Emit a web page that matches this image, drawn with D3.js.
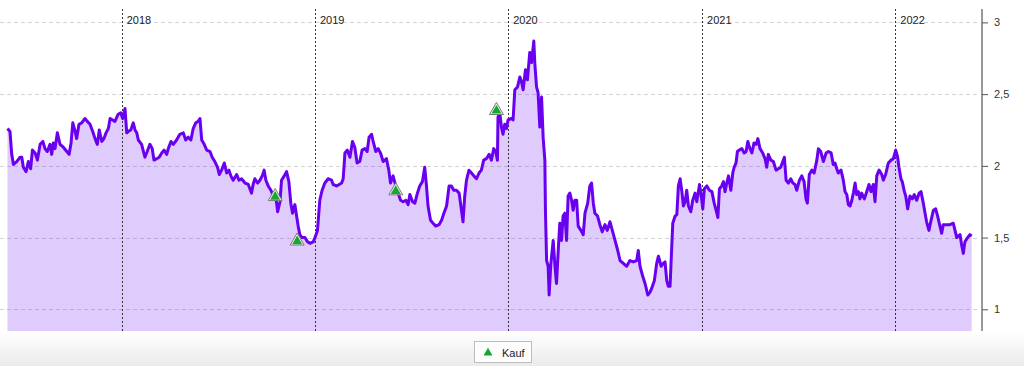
<!DOCTYPE html>
<html><head><meta charset="utf-8">
<script src="https://cdn.jsdelivr.net/npm/d3@7/dist/d3.min.js"></script>
<style>html,body{margin:0;padding:0;background:#fff;}svg{display:block;font-family:"Liberation Sans",Arial,Helvetica,sans-serif;}</style>
</head><body>
<svg id="chart" width="1024" height="366"></svg>
<script>
// Kursverlauf: [Datum als Dezimaljahr, Kurs]
const kurs = [
[2017.409,2.26],[2017.422,2.24],[2017.431,2.08],[2017.440,2.01],[2017.457,2.03],[2017.474,2.06],[2017.483,2.06],[2017.491,1.99],[2017.505,1.96],[2017.517,2.03],
[2017.529,1.98],[2017.538,2.11],[2017.552,2.09],[2017.564,2.04],[2017.578,2.15],[2017.592,2.17],[2017.603,2.12],[2017.615,2.10],[2017.629,2.15],[2017.638,2.08],
[2017.646,2.16],[2017.655,2.12],[2017.667,2.23],[2017.681,2.15],[2017.698,2.13],[2017.716,2.10],[2017.728,2.08],[2017.738,2.16],[2017.747,2.30],[2017.759,2.24],
[2017.767,2.19],[2017.779,2.29],[2017.793,2.30],[2017.810,2.33],[2017.822,2.31],[2017.836,2.29],[2017.850,2.24],[2017.862,2.19],[2017.874,2.15],[2017.884,2.25],
[2017.897,2.17],[2017.908,2.19],[2017.919,2.23],[2017.931,2.26],[2017.940,2.33],[2017.953,2.32],[2017.965,2.31],[2017.982,2.36],[2017.995,2.37],[2018.005,2.33],
[2018.017,2.40],[2018.026,2.23],[2018.034,2.24],[2018.047,2.25],[2018.060,2.30],[2018.069,2.25],[2018.078,2.23],[2018.086,2.18],[2018.103,2.15],[2018.120,2.06],
[2018.132,2.10],[2018.146,2.15],[2018.158,2.12],[2018.167,2.04],[2018.181,2.05],[2018.194,2.06],[2018.207,2.09],[2018.219,2.11],[2018.233,2.08],[2018.241,2.12],
[2018.255,2.17],[2018.267,2.15],[2018.284,2.18],[2018.301,2.22],[2018.319,2.23],[2018.331,2.18],[2018.344,2.20],[2018.358,2.18],[2018.370,2.26],[2018.383,2.30],
[2018.396,2.31],[2018.405,2.33],[2018.414,2.18],[2018.427,2.15],[2018.440,2.11],[2018.457,2.10],[2018.468,2.06],[2018.482,2.03],[2018.496,1.99],[2018.505,1.94],
[2018.517,1.97],[2018.531,2.02],[2018.543,1.95],[2018.555,1.97],[2018.565,1.93],[2018.577,1.90],[2018.595,1.94],[2018.607,1.90],[2018.620,1.91],[2018.638,1.88],
[2018.655,1.87],[2018.663,1.84],[2018.672,1.81],[2018.680,1.87],[2018.689,1.91],[2018.703,1.88],[2018.715,1.90],[2018.727,1.93],[2018.737,1.97],[2018.746,1.90],
[2018.758,1.86],[2018.772,1.83],[2018.784,1.79],[2018.796,1.80],[2018.807,1.68],[2018.819,1.75],[2018.827,1.90],[2018.841,1.93],[2018.853,1.96],[2018.865,1.89],
[2018.875,1.74],[2018.884,1.67],[2018.896,1.73],[2018.905,1.65],[2018.913,1.58],[2018.922,1.52],[2018.934,1.50],[2018.948,1.50],[2018.962,1.47],[2018.974,1.46],
[2018.991,1.47],[2019.003,1.51],[2019.013,1.55],[2019.025,1.76],[2019.037,1.83],[2019.051,1.88],[2019.068,1.91],[2019.086,1.90],[2019.094,1.87],[2019.112,1.86],
[2019.138,1.88],[2019.146,1.91],[2019.155,2.09],[2019.167,2.11],[2019.181,2.06],[2019.194,2.17],[2019.206,2.13],[2019.218,2.02],[2019.232,2.03],[2019.244,2.11],
[2019.258,2.12],[2019.270,2.10],[2019.280,2.20],[2019.293,2.22],[2019.301,2.17],[2019.315,2.10],[2019.327,2.12],[2019.339,2.09],[2019.353,2.03],[2019.370,2.05],
[2019.382,1.97],[2019.391,1.88],[2019.404,1.93],[2019.418,1.86],[2019.430,1.81],[2019.443,1.76],[2019.456,1.75],[2019.470,1.76],[2019.482,1.73],[2019.491,1.80],
[2019.505,1.75],[2019.517,1.74],[2019.528,1.80],[2019.542,1.86],[2019.556,1.89],[2019.568,1.99],[2019.577,1.86],[2019.585,1.72],[2019.598,1.62],[2019.611,1.60],
[2019.625,1.58],[2019.642,1.59],[2019.655,1.62],[2019.667,1.67],[2019.681,1.72],[2019.694,1.86],[2019.706,1.86],[2019.718,1.83],[2019.732,1.83],[2019.746,1.81],
[2019.758,1.69],[2019.766,1.61],[2019.775,1.79],[2019.784,1.90],[2019.797,1.97],[2019.810,1.95],[2019.822,1.93],[2019.836,1.91],[2019.849,1.95],[2019.861,1.97],
[2019.873,2.04],[2019.887,2.05],[2019.901,2.08],[2019.913,2.04],[2019.925,2.12],[2019.935,2.10],[2019.944,2.04],[2019.947,2.34],[2019.956,2.37],[2019.965,2.27],
[2019.973,2.22],[2019.982,2.29],[2019.991,2.26],[2019.999,2.32],[2020.017,2.33],[2020.025,2.32],[2020.034,2.53],[2020.048,2.55],[2020.060,2.62],[2020.068,2.59],
[2020.077,2.53],[2020.089,2.67],[2020.099,2.60],[2020.111,2.79],[2020.120,2.72],[2020.132,2.87],[2020.137,2.72],[2020.146,2.55],[2020.154,2.51],[2020.163,2.27],
[2020.172,2.48],[2020.180,2.20],[2020.189,2.04],[2020.192,1.69],[2020.198,1.34],[2020.206,1.30],[2020.211,1.10],[2020.220,1.32],[2020.232,1.48],[2020.240,1.32],
[2020.249,1.18],[2020.258,1.41],[2020.266,1.60],[2020.275,1.48],[2020.283,1.65],[2020.292,1.67],[2020.301,1.48],[2020.309,1.79],[2020.318,1.81],[2020.327,1.76],
[2020.335,1.69],[2020.344,1.76],[2020.353,1.76],[2020.361,1.58],[2020.375,1.55],[2020.387,1.52],[2020.396,1.67],[2020.410,1.74],[2020.421,1.86],[2020.430,1.88],
[2020.439,1.74],[2020.447,1.67],[2020.461,1.65],[2020.473,1.59],[2020.485,1.54],[2020.499,1.59],[2020.511,1.55],[2020.525,1.61],[2020.537,1.55],[2020.551,1.48],
[2020.565,1.41],[2020.577,1.34],[2020.594,1.32],[2020.611,1.30],[2020.628,1.34],[2020.645,1.33],[2020.663,1.34],[2020.671,1.41],[2020.680,1.30],[2020.694,1.23],
[2020.706,1.18],[2020.720,1.10],[2020.732,1.12],[2020.744,1.16],[2020.754,1.20],[2020.766,1.32],[2020.775,1.37],[2020.789,1.30],[2020.800,1.32],[2020.809,1.33],
[2020.818,1.20],[2020.826,1.16],[2020.835,1.16],[2020.840,1.32],[2020.849,1.60],[2020.861,1.65],[2020.870,1.66],[2020.878,1.86],[2020.887,1.91],[2020.896,1.82],
[2020.904,1.72],[2020.913,1.75],[2020.921,1.83],[2020.930,1.72],[2020.942,1.68],[2020.952,1.76],[2020.964,1.81],[2020.973,1.75],[2020.987,1.87],[2020.995,1.80],
[2021.004,1.70],[2021.012,1.84],[2021.025,1.86],[2021.038,1.83],[2021.051,1.82],[2021.063,1.74],[2021.073,1.69],[2021.082,1.64],[2021.090,1.84],[2021.102,1.86],
[2021.111,1.89],[2021.119,1.82],[2021.128,1.88],[2021.137,1.93],[2021.149,1.83],[2021.159,1.95],[2021.166,1.99],[2021.176,2.02],[2021.183,2.10],[2021.193,2.11],
[2021.206,2.12],[2021.218,2.09],[2021.228,2.10],[2021.237,2.17],[2021.245,2.13],[2021.258,2.09],[2021.269,2.16],[2021.280,2.15],[2021.289,2.19],[2021.300,2.12],
[2021.314,2.09],[2021.326,2.05],[2021.335,1.99],[2021.343,2.08],[2021.356,2.04],[2021.369,2.03],[2021.383,1.97],[2021.395,1.98],[2021.407,1.99],[2021.418,2.03],
[2021.426,2.06],[2021.435,1.90],[2021.447,1.88],[2021.459,1.91],[2021.470,1.88],[2021.481,1.87],[2021.490,1.83],[2021.504,1.90],[2021.516,1.93],[2021.528,1.89],
[2021.538,1.77],[2021.545,1.74],[2021.555,1.94],[2021.568,1.97],[2021.580,1.95],[2021.594,2.04],[2021.602,2.12],[2021.614,2.10],[2021.628,2.03],[2021.642,2.09],
[2021.654,2.10],[2021.668,2.09],[2021.679,2.01],[2021.688,2.02],[2021.697,1.98],[2021.705,1.95],[2021.719,1.97],[2021.731,1.90],[2021.740,1.82],[2021.749,1.80],
[2021.757,1.73],[2021.766,1.72],[2021.775,1.76],[2021.783,1.81],[2021.792,1.88],[2021.800,1.80],[2021.809,1.82],[2021.817,1.77],[2021.826,1.81],[2021.840,1.77],
[2021.852,1.82],[2021.864,1.87],[2021.874,1.82],[2021.886,1.87],[2021.895,1.75],[2021.904,1.93],[2021.916,1.97],[2021.930,1.94],[2021.938,1.90],[2021.950,1.94],
[2021.964,2.02],[2021.978,2.04],[2021.990,2.05],[2022.002,2.11],[2022.012,2.06],[2022.019,1.99],[2022.029,1.91],[2022.036,1.89],[2022.047,1.82],[2022.054,1.79],
[2022.064,1.70],[2022.076,1.79],[2022.088,1.77],[2022.098,1.80],[2022.111,1.76],[2022.123,1.81],[2022.133,1.82],[2022.145,1.74],[2022.154,1.67],[2022.162,1.61],
[2022.174,1.55],[2022.185,1.62],[2022.197,1.69],[2022.209,1.70],[2022.219,1.65],[2022.231,1.58],[2022.240,1.53],[2022.248,1.59],[2022.266,1.59],[2022.283,1.59],
[2022.300,1.60],[2022.309,1.55],[2022.318,1.50],[2022.326,1.51],[2022.335,1.52],[2022.343,1.45],[2022.352,1.39],[2022.360,1.47],[2022.374,1.50],[2022.386,1.52],
[2022.395,1.51]
];
// Kaufsignale: [Datum als Dezimaljahr, Kurs]
const kaufSignale = [[2018.794,1.79],[2018.908,1.48],[2019.418,1.83],[2019.939,2.39]];
const yTicks = [1, 1.5, 2, 2.5, 3];
const yearTicks = [2018, 2019, 2020, 2021, 2022];
const legendLabel = "Kauf";

function dec2date(v){
  const yr = Math.floor(v);
  const s = new Date(yr,0,1), e = new Date(yr+1,0,1);
  return new Date(+s + (v-yr)*(e-s));
}

const W = 1024, H = 366;
const plotTop = 9, plotBottom = 331, gridRight = 980, axisX = 982;
const svg = d3.select("#chart");

const x = d3.scaleTime()
  .domain([new Date(2018,0,1), new Date(2022,0,1)])
  .range([121.7, 895.3]);
const y = d3.scaleLinear().domain([1,3]).range([309.3, 22.4]);

// footer gradient
const defs = svg.append("defs");
const grad = defs.append("linearGradient").attr("id","foot").attr("x1",0).attr("y1",0).attr("x2",0).attr("y2",1);
grad.append("stop").attr("offset","0%").attr("stop-color","#ffffff");
grad.append("stop").attr("offset","100%").attr("stop-color","#ebebeb");
svg.append("rect").attr("x",0).attr("y",plotBottom).attr("width",W).attr("height",H-plotBottom).attr("fill","url(#foot)");

// horizontal grid
svg.append("g").selectAll("line").data(yTicks).join("line")
  .attr("x1",0).attr("x2",gridRight)
  .attr("y1",d=>Math.round(y(d))+0.5).attr("y2",d=>Math.round(y(d))+0.5)
  .attr("stroke","#d4d4d4").attr("stroke-width",1).attr("stroke-dasharray","4,3");

const data = kurs.map(d=>({date:dec2date(d[0]), v:d[1]}));

// area
svg.append("path").datum(data)
  .attr("d", d3.area().x(d=>x(d.date)).y0(plotBottom).y1(d=>y(d.v)))
  .attr("fill","rgba(110,20,240,0.22)");

// year lines
const yg = svg.append("g");
yg.selectAll("line").data(yearTicks).join("line")
  .attr("x1",d=>Math.round(x(new Date(d,0,1)))+0.5).attr("x2",d=>Math.round(x(new Date(d,0,1)))+0.5)
  .attr("y1",plotTop).attr("y2",plotBottom)
  .attr("stroke","#333").attr("stroke-width",1).attr("stroke-dasharray","2,2");
yg.selectAll("text").data(yearTicks).join("text")
  .attr("x",d=>x(new Date(d,0,1))+5).attr("y",24)
  .attr("font-size",11).attr("fill","#222").text(d=>d);

// line
svg.append("path").datum(data)
  .attr("d", d3.line().x(d=>x(d.date)).y(d=>y(d.v)))
  .attr("fill","none").attr("stroke","#6a00f0").attr("stroke-width",3).attr("stroke-linejoin","round");

// buy markers
function tri(cx, cy, w){ const h = w*0.866; return `M${cx},${cy-h*0.62}L${cx+w/2},${cy+h*0.38}L${cx-w/2},${cy+h*0.38}Z`; }
const mk = svg.append("g").selectAll("g").data(kaufSignale).join("g");
mk.append("path").attr("d",d=>tri(x(dec2date(d[0])), y(d[1]), 14)).attr("fill","#f4f4f4").attr("stroke","#7a7a7a").attr("stroke-width",1);
mk.append("path").attr("d",d=>tri(x(dec2date(d[0])), y(d[1])+0.4, 10)).attr("fill","#13a82e");

// y axis
const loc = d3.formatLocale({decimal:",", thousands:".", grouping:[3], currency:["","€"]});
const fmt = loc.format(".1~f");
svg.append("line").attr("x1",axisX).attr("x2",axisX).attr("y1",plotTop).attr("y2",plotBottom)
  .attr("stroke","#777").attr("stroke-width",1.5);
const ax = svg.append("g").attr("transform",`translate(${axisX},0)`)
  .call(d3.axisRight(y).tickValues(yTicks).tickSize(6).tickPadding(6).tickFormat(fmt));
ax.select(".domain").remove();
ax.selectAll(".tick line").attr("stroke","#555");
ax.selectAll(".tick text").attr("font-size",11).attr("fill","#333").attr("font-family","Liberation Sans, Arial, sans-serif");

// legend
const lg = svg.append("g");
lg.append("rect").attr("x",474.5).attr("y",341.5).attr("width",57).attr("height",21)
  .attr("fill","#fdfdfd").attr("stroke","#bdbdbd");
lg.append("path").attr("d",tri(488,352.5,9)).attr("fill","#13a82e");
lg.append("text").attr("x",502).attr("y",356.5).attr("font-size",11).attr("fill","#222").text(legendLabel);
</script>
</body></html>
